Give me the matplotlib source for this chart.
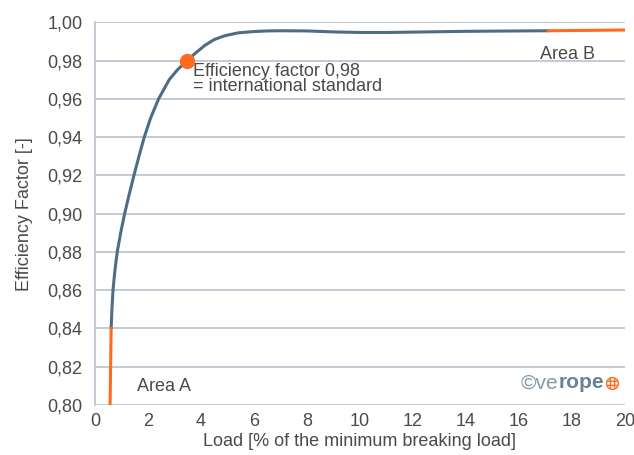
import matplotlib.pyplot as plt
import numpy as np

plt.rcParams['font.family'] = ['Liberation Sans', 'DejaVu Sans']

# Efficiency curve
area_a_x = [0.57, 0.59, 0.61]
area_a_y = [0.80, 0.82, 0.84]

curve_x = [0.61, 0.64, 0.68, 0.75, 0.84, 0.97, 1.12, 1.29, 1.47, 1.66, 1.86, 2.10, 2.40, 2.80,
           3.10, 3.47, 3.80, 4.15, 4.50, 4.90, 5.40, 6.00, 6.50, 7.00, 8.00, 9.00, 10.0, 11.0,
           12.0, 13.0, 14.0, 15.0, 16.0, 17.1]
curve_y = [0.84, 0.85, 0.86, 0.87, 0.88, 0.89, 0.90, 0.91, 0.92, 0.93, 0.94, 0.95, 0.96, 0.97,
           0.975, 0.98, 0.984, 0.988, 0.991, 0.993, 0.9945, 0.9952, 0.9955, 0.9956, 0.9955, 0.9950,
           0.9947, 0.9947, 0.9949, 0.9951, 0.9953, 0.9954, 0.9955, 0.9956]

area_b_x = [17.1, 18.5, 20.0]
area_b_y = [0.9956, 0.9958, 0.996]

standard_x = 3.47
standard_y = 0.98

x_ticks = [0, 2, 4, 6, 8, 10, 12, 14, 16, 18, 20]
y_ticks = [0.80, 0.82, 0.84, 0.86, 0.88, 0.90, 0.92, 0.94, 0.96, 0.98, 1.00]

blue = '#4d6d84'
orange = '#ff6a1f'
grid_col = '#b7c1ce'
text_col = '#4a4a4a'

fig = plt.figure(figsize=(6.34, 4.55), dpi=100)
ax = fig.add_axes([0.1498, 0.1099, 0.836, 0.841])

ax.plot(curve_x, curve_y, color=blue, lw=2.2, solid_capstyle='round', solid_joinstyle='round', zorder=3)
ax.plot(area_a_x, area_a_y, color=orange, lw=2.2, zorder=4)
ax.plot(area_b_x, area_b_y, color=orange, lw=2.2, zorder=4)
ax.plot([standard_x], [standard_y], 'o', color=orange, ms=10, zorder=5)

ax.text(3.71, 0.9785, 'Efficiency factor 0,98\n= international standard', fontsize=13,
        color=text_col, va='top', ha='left', linespacing=0.8)
ax.text(1.59, 0.8098, 'Area A', fontsize=13, color=text_col, va='center', ha='left')
ax.text(16.78, 0.9831, 'Area B', fontsize=13, color=text_col, va='center', ha='left')

# logo
logo1 = ax.text(16.06, 0.8115, '\u00a9ve', fontsize=15, color='#8398aa', va='center', ha='left')
ax.annotate('rope', xy=(1, 0.5), xycoords=logo1, fontsize=15, color='#6a8296',
            fontweight='bold', va='center', ha='left')
ax.scatter([19.52], [0.8115], s=70, marker='o', facecolor='none', edgecolor=orange,
           hatch='++++', lw=0, zorder=5)
ax.plot([19.52], [0.8115], 'o', ms=8.5, markerfacecolor='none', markeredgecolor=orange, mew=1)

ax.set_xlim(0, 20)
ax.set_ylim(0.80, 1.00)
ax.set_xticks(x_ticks)
ax.set_yticks(y_ticks)
ax.set_yticklabels([f'{v:.2f}'.replace('.', ',') for v in y_ticks])
ax.tick_params(axis='y', length=0, labelsize=13, labelcolor=text_col, pad=9)
ax.tick_params(axis='x', length=0, labelsize=13, labelcolor=text_col, pad=6)
ax.grid(axis='y', color=grid_col, lw=1.2)
ax.set_axisbelow(True)
for side in ['top', 'right', 'bottom']:
    ax.spines[side].set_visible(False)
ax.spines['left'].set_color(grid_col)
ax.spines['left'].set_linewidth(1.2)

ax.set_xlabel('Load [% of the minimum breaking load]', fontsize=13, color=text_col, labelpad=2)
ax.set_ylabel('Efficiency Factor [-]', fontsize=13, color=text_col, labelpad=10)

plt.savefig('out.png', dpi=100)
